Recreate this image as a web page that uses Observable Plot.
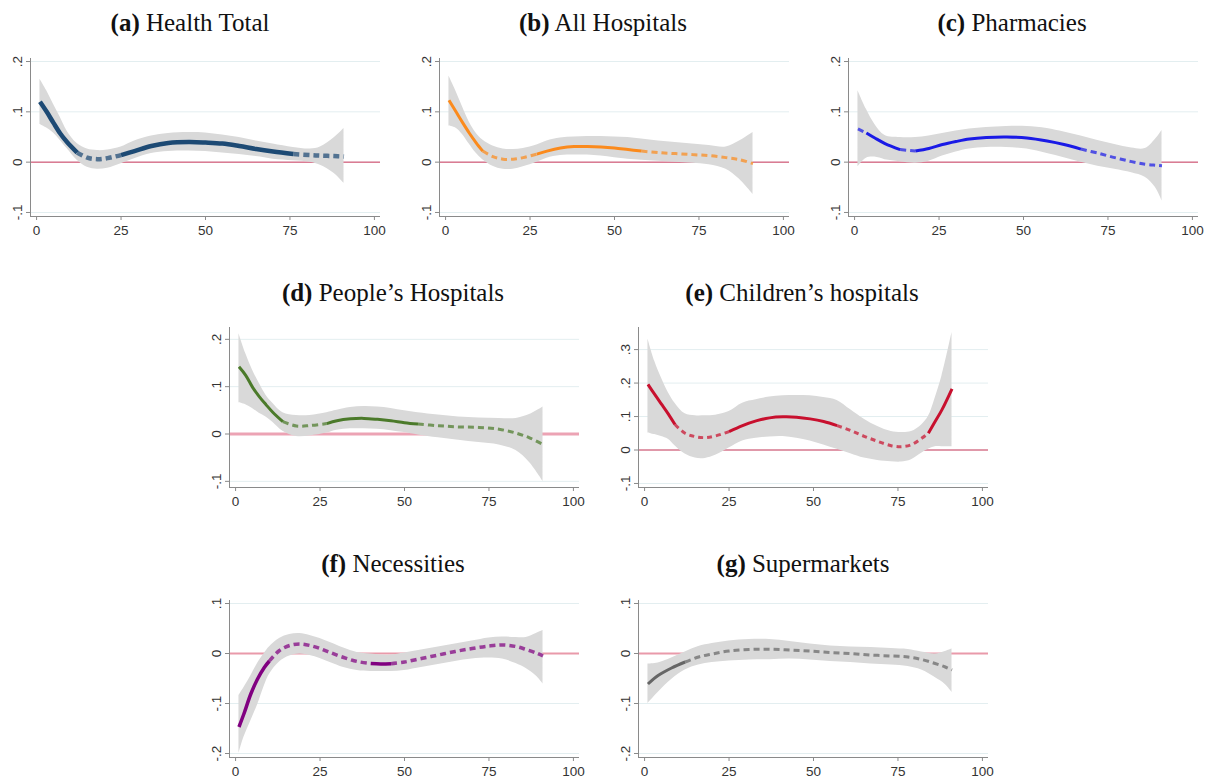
<!DOCTYPE html>
<html>
<head>
<meta charset="utf-8">
<script src="https://cdn.jsdelivr.net/npm/d3@7"></script>
<script src="https://cdn.jsdelivr.net/npm/@observablehq/plot@0.6"></script>
<style>
  html, body { margin: 0; padding: 0; background: #fff; }
  #root { position: relative; width: 1208px; height: 779px; overflow: hidden; background: #fff; }
  .title { position: absolute; width: 420px; text-align: center; font-family: "Liberation Serif", "Times New Roman", serif; font-size: 25px; line-height: 25px; color: #111; white-space: nowrap; }
  .panel { position: absolute; }
</style>
</head>
<body>
<div id="root"></div>
<script>
// ---------- data ----------
const xTicks = [0, 25, 50, 75, 100];

// (a) Health Total
const aX   = [1, 3, 5, 7, 9, 12, 15, 18, 21, 25, 29, 34, 39, 45, 50, 55, 60, 65, 70, 76, 81, 84, 88, 91];
const aEst = [0.120, 0.100, 0.078, 0.057, 0.040, 0.019, 0.009, 0.006, 0.008, 0.014, 0.022, 0.032, 0.038, 0.040, 0.039, 0.037, 0.032, 0.026, 0.021, 0.016, 0.014, 0.013, 0.012, 0.011];
const aHi  = [0.165, 0.142, 0.115, 0.089, 0.062, 0.037, 0.026, 0.023, 0.024, 0.030, 0.042, 0.052, 0.057, 0.059, 0.058, 0.054, 0.049, 0.042, 0.036, 0.029, 0.026, 0.030, 0.048, 0.067];
const aLo  = [0.075, 0.068, 0.058, 0.043, 0.027, 0.004, -0.010, -0.014, -0.012, -0.003, 0.007, 0.017, 0.021, 0.022, 0.021, 0.018, 0.015, 0.011, 0.006, 0.003, 0.000, -0.006, -0.022, -0.042];
const aBreaks = [12, 25, 76];

// (b) All Hospitals
const bX   = [1, 3, 5, 7, 9, 11, 14, 17, 20, 23, 27, 30, 34, 38, 42, 46, 50, 54, 58, 63, 68, 73, 78, 83, 87, 91];
const bEst = [0.123, 0.101, 0.079, 0.058, 0.039, 0.022, 0.011, 0.006, 0.006, 0.009, 0.016, 0.022, 0.028, 0.031, 0.031, 0.030, 0.028, 0.025, 0.022, 0.019, 0.017, 0.015, 0.013, 0.009, 0.005, -0.003];
const bHi  = [0.171, 0.142, 0.110, 0.080, 0.058, 0.044, 0.032, 0.026, 0.025, 0.027, 0.034, 0.042, 0.048, 0.050, 0.051, 0.051, 0.050, 0.049, 0.046, 0.042, 0.039, 0.036, 0.033, 0.030, 0.042, 0.059];
const bLo  = [0.072, 0.068, 0.055, 0.036, 0.018, 0.005, -0.008, -0.014, -0.014, -0.009, 0.000, 0.008, 0.013, 0.014, 0.014, 0.012, 0.009, 0.006, 0.004, 0.002, 0.000, -0.002, -0.005, -0.014, -0.034, -0.064];
const bBreaks = [11, 27, 58];

// (c) Pharmacies
const cX   = [1, 3.5, 6, 9, 13.5, 18, 22, 26, 30, 34, 39, 45, 51, 57, 62, 67, 72, 77, 82, 86, 89, 91];
const cEst = [0.066, 0.058, 0.048, 0.037, 0.025, 0.022, 0.027, 0.035, 0.041, 0.046, 0.049, 0.050, 0.048, 0.042, 0.035, 0.026, 0.018, 0.009, 0.001, -0.004, -0.006, -0.007];
const cHi  = [0.142, 0.105, 0.075, 0.053, 0.049, 0.049, 0.052, 0.057, 0.062, 0.066, 0.069, 0.071, 0.071, 0.067, 0.060, 0.052, 0.043, 0.035, 0.028, 0.027, 0.045, 0.063];
const cLo  = [-0.009, 0.008, 0.010, 0.005, 0.001, -0.002, 0.002, 0.012, 0.020, 0.026, 0.029, 0.029, 0.026, 0.017, 0.009, 0.000, -0.008, -0.014, -0.021, -0.030, -0.050, -0.077];
const cBreaks = [3.5, 13.5, 18, 67];

// (d) People's Hospitals
const dX   = [1, 3, 5, 7, 9, 11, 14, 18, 22, 27, 30, 34, 38, 42, 46, 50, 54, 60, 66, 72, 78, 83, 87, 91];
const dEst = [0.142, 0.124, 0.099, 0.079, 0.062, 0.046, 0.026, 0.017, 0.018, 0.022, 0.028, 0.032, 0.033, 0.031, 0.028, 0.024, 0.021, 0.0175, 0.015, 0.014, 0.010, 0.002, -0.008, -0.022];
const dHi  = [0.212, 0.170, 0.135, 0.107, 0.082, 0.065, 0.045, 0.039, 0.039, 0.045, 0.050, 0.056, 0.058, 0.057, 0.054, 0.049, 0.045, 0.040, 0.036, 0.034, 0.033, 0.033, 0.041, 0.057];
const dLo  = [0.066, 0.062, 0.054, 0.044, 0.036, 0.025, 0.006, -0.005, -0.004, 0.002, 0.008, 0.011, 0.011, 0.010, 0.007, 0.003, -0.002, -0.008, -0.013, -0.018, -0.023, -0.035, -0.060, -0.100];
const dBreaks = [14, 27, 54];

// (e) Children's hospitals
const eX   = [1, 3, 5, 7, 9, 12, 15, 18, 21, 25, 29, 33, 37, 41, 45, 49, 53, 57, 61, 65, 69, 73, 76, 79, 82, 84, 86, 88, 91];
const eEst = [0.196, 0.166, 0.137, 0.108, 0.076, 0.050, 0.040, 0.037, 0.042, 0.055, 0.073, 0.087, 0.096, 0.099, 0.098, 0.093, 0.085, 0.073, 0.058, 0.041, 0.026, 0.013, 0.010, 0.016, 0.035, 0.050, 0.085, 0.120, 0.183];
const eHi  = [0.332, 0.265, 0.215, 0.172, 0.140, 0.108, 0.102, 0.102, 0.104, 0.115, 0.140, 0.150, 0.158, 0.162, 0.163, 0.162, 0.157, 0.148, 0.120, 0.092, 0.070, 0.055, 0.052, 0.055, 0.075, 0.100, 0.155, 0.220, 0.351];
const eLo  = [0.051, 0.046, 0.040, 0.032, 0.013, -0.012, -0.024, -0.025, -0.016, 0.006, 0.027, 0.035, 0.039, 0.040, 0.035, 0.027, 0.015, 0.002, -0.011, -0.024, -0.031, -0.035, -0.036, -0.029, -0.010, 0.002, 0.010, 0.010, 0.010];
const eBreaks = [9, 25, 57, 84];

// (f) Necessities
const fX   = [1, 2.5, 4.5, 6.5, 8.5, 10, 13, 16, 19, 22, 25, 28, 32, 36, 40, 43, 46, 50, 55, 60, 65, 70, 75, 79, 83, 86, 89, 91];
const fEst = [-0.147, -0.120, -0.081, -0.051, -0.028, -0.015, 0.006, 0.016, 0.019, 0.016, 0.010, 0.002, -0.008, -0.016, -0.020, -0.021, -0.0205, -0.017, -0.010, -0.003, 0.004, 0.010, 0.015, 0.017, 0.014, 0.008, 0.001, -0.005];
const fHi  = [-0.084, -0.068, -0.045, -0.020, 0.000, 0.013, 0.030, 0.038, 0.040, 0.036, 0.030, 0.022, 0.011, 0.002, -0.001, -0.003, -0.003, 0.001, 0.007, 0.013, 0.019, 0.025, 0.031, 0.033, 0.032, 0.032, 0.040, 0.046];
const fLo  = [-0.200, -0.167, -0.135, -0.103, -0.065, -0.042, -0.017, -0.005, -0.001, -0.004, -0.010, -0.018, -0.028, -0.034, -0.036, -0.036, -0.036, -0.034, -0.028, -0.022, -0.016, -0.011, -0.009, -0.011, -0.020, -0.030, -0.045, -0.061];
const fBreaks = [10, 40, 46];

// (g) Supermarkets
const gX   = [1, 4, 8, 12, 16, 20, 25, 31, 37, 43, 49, 55, 61, 67, 73, 78, 82, 86, 89, 91];
const gEst = [-0.061, -0.044, -0.029, -0.017, -0.007, -0.001, 0.005, 0.008, 0.0085, 0.007, 0.005, 0.002, 0.000, -0.003, -0.005, -0.007, -0.012, -0.020, -0.027, -0.033];
const gHi  = [-0.021, -0.019, -0.009, 0.003, 0.014, 0.020, 0.025, 0.028, 0.028, 0.024, 0.019, 0.015, 0.013, 0.012, 0.010, 0.008, 0.003, -0.001, 0.004, 0.009];
const gLo  = [-0.100, -0.078, -0.052, -0.033, -0.023, -0.018, -0.015, -0.013, -0.0125, -0.011, -0.013, -0.016, -0.018, -0.021, -0.023, -0.026, -0.033, -0.048, -0.062, -0.078];
const gBreaks = [12];

// ---------- panel configuration ----------
const row1Y = {domain: [-0.108, 0.206], ticks: [-0.1, 0, 0.1, 0.2]};
const panels = [
  {tag: "(a)", title: "Health Total", x: aX, est: aEst, lo: aLo, hi: aHi, breaks: aBreaks, firstSolid: true,
   color: "#1d4a74", lw: 4.5, dash: "6,4", left: 0, top: 54, frameH: 158, mb: 26, y: row1Y, zero: "thin", tx: 190, ty: 10},
  {tag: "(b)", title: "All Hospitals", x: bX, est: bEst, lo: bLo, hi: bHi, breaks: bBreaks, firstSolid: true,
   color: "#fb8a1c", lw: 3, dash: "6,4", left: 409, top: 54, frameH: 158, mb: 26, y: row1Y, zero: "thin", tx: 603, ty: 10},
  {tag: "(c)", title: "Pharmacies", x: cX, est: cEst, lo: cLo, hi: cHi, breaks: cBreaks, firstSolid: false,
   color: "#1a1ae6", lw: 3, dash: "6,4", left: 818, top: 54, frameH: 158, mb: 26, y: row1Y, zero: "thin", tx: 1012, ty: 10},
  {tag: "(d)", title: "People\u2019s Hospitals", x: dX, est: dEst, lo: dLo, hi: dHi, breaks: dBreaks, firstSolid: true,
   color: "#4b7a2a", lw: 3, dash: "6,4", left: 199, top: 323, frameH: 160, mb: 26, y: {domain: [-0.113, 0.225], ticks: [-0.1, 0, 0.1, 0.2]}, zero: "thick", tx: 393, ty: 280},
  {tag: "(e)", title: "Children\u2019s hospitals", x: eX, est: eEst, lo: eLo, hi: eHi, breaks: eBreaks, firstSolid: true,
   color: "#c8102e", lw: 3, dash: "5,4", left: 608, top: 323, frameH: 160, mb: 26, y: {domain: [-0.112, 0.366], ticks: [-0.1, 0, 0.1, 0.2, 0.3]}, zero: "thin", tx: 802, ty: 280},
  {tag: "(f)", title: "Necessities", x: fX, est: fEst, lo: fLo, hi: fHi, breaks: fBreaks, firstSolid: true,
   color: "#800080", lw: 3.5, dash: "6,4", left: 199, top: 596, frameH: 157, mb: 22, y: {domain: [-0.208, 0.106], ticks: [-0.2, -0.1, 0, 0.1]}, zero: "pink", tx: 393, ty: 551},
  {tag: "(g)", title: "Supermarkets", x: gX, est: gEst, lo: gLo, hi: gHi, breaks: gBreaks, firstSolid: true,
   color: "#666666", lw: 3, dash: "6,4", left: 608, top: 596, frameH: 157, mb: 22, y: {domain: [-0.208, 0.106], ticks: [-0.2, -0.1, 0, 0.1]}, zero: "pink", tx: 803, ty: 551}
];

const xDomain = [-1.8, 101.8];
const fmt = d => d === 0 ? "0" : String(d).replace("0.", ".");
const zeroStyles = {
  thin:  {stroke: "#cf3a5c", strokeWidth: 1},
  thick: {stroke: "#eca3b4", strokeWidth: 3},
  pink:  {stroke: "#e99aaa", strokeWidth: 1.8}
};

function lineRows(p) {
  const rows = [];
  p.x.forEach((x, i) => {
    const k = p.breaks.filter(b => b <= x).length;
    if (p.breaks.includes(x)) rows.push({x, y: p.est[i], g: k - 1});
    rows.push({x, y: p.est[i], g: k});
  });
  return rows.map(r => ({...r, solid: (r.g % 2 === 0) === p.firstSolid}));
}

const root = document.getElementById("root");
panels.forEach(p => {
  const band = p.x.map((x, i) => ({x, lo: p.lo[i], hi: p.hi[i]}));
  const rows = lineRows(p);
  const ml = 30, mr = 8, mt = 4;
  const chart = Plot.plot({
    width: 350 + ml + mr,
    height: p.frameH + mt + p.mb,
    marginLeft: ml, marginRight: mr, marginTop: mt, marginBottom: p.mb,
    x: {domain: xDomain},
    y: {domain: p.y.domain},
    style: {fontFamily: "'Liberation Sans', Arial, sans-serif", fontSize: "13.5px", background: "transparent"},
    marks: [
      Plot.ruleY(p.y.ticks, {stroke: "#e3eef0", strokeWidth: 1}),
      Plot.ruleY([0], zeroStyles[p.zero]),
      Plot.areaY(band, {x: "x", y1: "lo", y2: "hi", fill: "#d9d9d9", curve: "catmull-rom"}),
      Plot.line(rows.filter(r => !r.solid), {x: "x", y: "y", z: "g", stroke: p.color, strokeOpacity: 0.72, strokeWidth: p.lw, strokeDasharray: p.dash, strokeLinecap: "butt", curve: "catmull-rom"}),
      Plot.line(rows.filter(r => r.solid), {x: "x", y: "y", z: "g", stroke: p.color, strokeWidth: p.lw, strokeLinecap: "butt", curve: "catmull-rom"}),
      Plot.ruleX([xDomain[0]], {stroke: "#8a8a8a"}),
      Plot.ruleY([p.y.domain[0]], {stroke: "#8a8a8a"}),
      Plot.axisX({ticks: xTicks, tickSize: 4, stroke: "#8a8a8a", fill: "#333", label: null, tickFormat: d => String(d)}),
      Plot.axisY({ticks: p.y.ticks, tickSize: 4, tickRotate: -90, stroke: "#8a8a8a", fill: "#333", label: null, tickFormat: fmt})
    ]
  });
  chart.classList.add("panel");
  chart.style.left = p.left + "px";
  chart.style.top = p.top + "px";
  root.appendChild(chart);

  const t = document.createElement("div");
  t.className = "title";
  t.style.left = (p.tx - 210) + "px";
  t.style.top = p.ty + "px";
  const b = document.createElement("b");
  b.textContent = p.tag;
  t.appendChild(b);
  t.appendChild(document.createTextNode(" " + p.title));
  root.appendChild(t);
});
</script>
</body>
</html>
